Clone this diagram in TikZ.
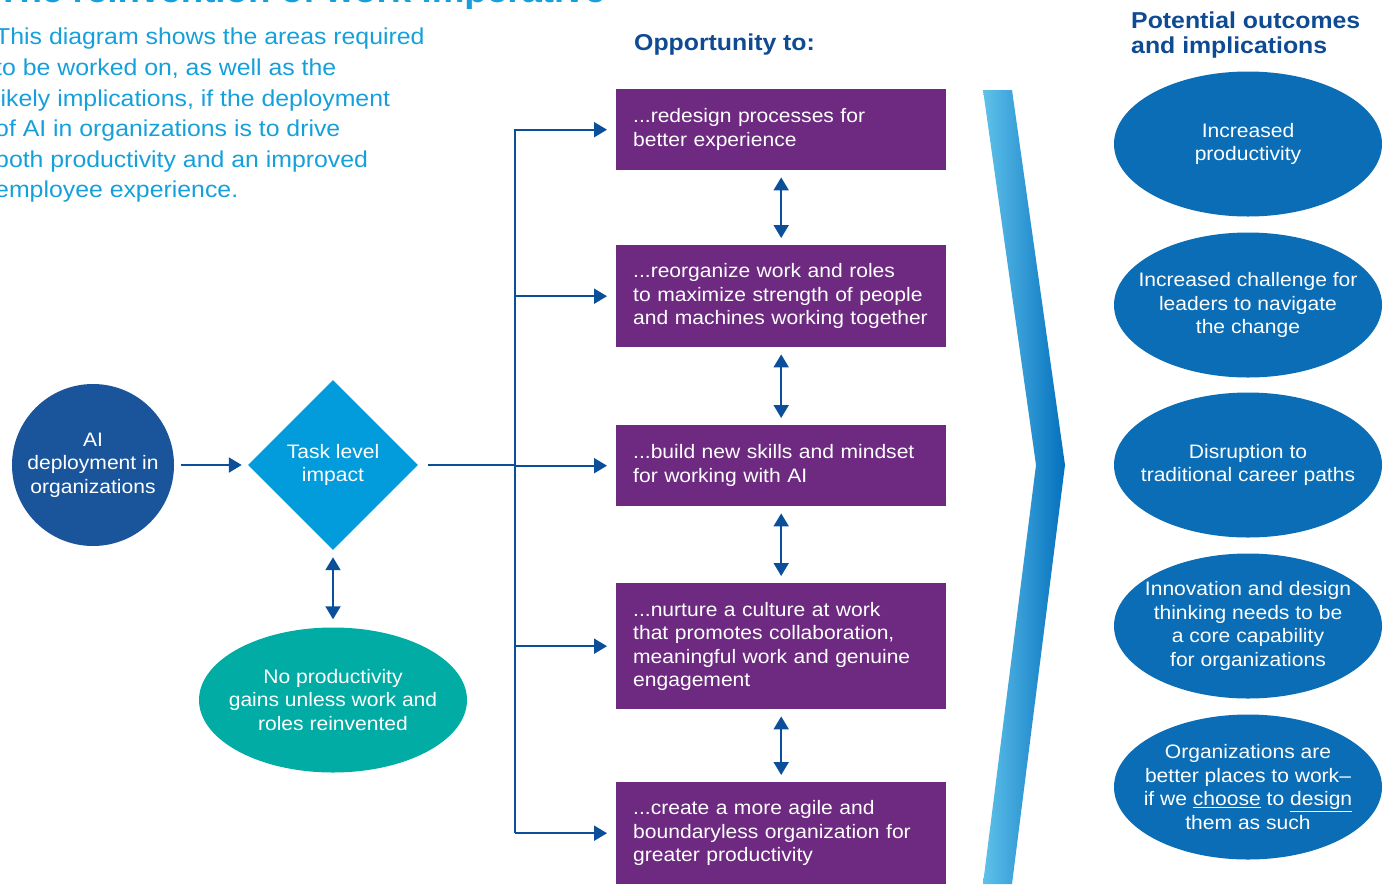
\documentclass[tikz,border=0pt]{standalone}
\usepackage{fontspec}
\setmainfont{Liberation Sans}[FakeStretch=1.08]
\usetikzlibrary{shapes.geometric,arrows.meta,positioning}
\definecolor{deployblue}{HTML}{1A559C}
\definecolor{taskblue}{HTML}{029BDC}
\definecolor{gainteal}{HTML}{00ACA4}
\definecolor{opppurple}{HTML}{6D2A80}
\definecolor{outblue}{HTML}{0A6DB6}
\definecolor{linkblue}{HTML}{0B4F9B}
\definecolor{headnavy}{HTML}{0E4B93}
\definecolor{introblue}{HTML}{16A0DB}
\definecolor{chevlight}{HTML}{5FC2EA}
\definecolor{chevdark}{HTML}{0470BE}
\tikzset{
  boxtext/.style={font=\fontsize{19.5}{23.5}\selectfont, text=white},
  oppbox/.style={boxtext, fill=opppurple, rectangle, minimum width=330pt,
    text width=296pt, inner xsep=17pt, inner ysep=0pt, align=left, anchor=north west,
    execute at begin node={\hyphenpenalty=10000}},
  blob/.style={ellipse, minimum width=268pt, minimum height=145pt, inner sep=0pt},
  blobtext/.style={boxtext, inner sep=0pt, align=center},
  heading/.style={font=\fontsize{23}{24.5}\selectfont\bfseries, text=headnavy,
    inner sep=0pt, align=left},
  link/.style={draw=linkblue, line width=2pt},
  linkarrow/.style={link, -{Triangle[length=13pt,width=15pt]}},
  twoway/.style={link, {Triangle[length=13pt,width=15pt]}-{Triangle[length=13pt,width=15pt]}}
}
\begin{document}
\begin{tikzpicture}[x=1pt, y=-1pt]
  \useasboundingbox (0,0) rectangle (1390,884);
  \pgfmathsetmacro{\trunkX}{515}
  \pgfmathsetmacro{\outX}{1248}

  % title and intro
  \node[anchor=base west, inner sep=0pt, text=introblue,
    font=\fontsize{34}{36}\selectfont\bfseries] (title) at (-3,2)
    {The reinvention of work imperative};
  \node[anchor=north west, inner sep=0pt, text=introblue, align=left,
    font=\fontsize{23}{30.6}\selectfont] (intro) at (-5,28)
    {This diagram shows the areas required\\
     to be worked on, as well as the\\
     likely implications, if the deployment\\
     of AI in organizations is to drive\\
     both productivity and an improved\\
     employee experience.};

  % left part
  \node[boxtext, circle, fill=deployblue, minimum size=162pt, inner sep=0pt,
    align=center] (deploy) at (93,465) {AI\\deployment in\\organizations};
  \node[boxtext, diamond, fill=taskblue, minimum width=170pt, minimum height=170pt,
    inner sep=0pt, align=center] (task) at (333,465) {Task level\\impact};
  \node[blob, fill=gainteal] (gains) at (333,700) {};
  \node[blobtext] (gainstext) at (gains)
    {No productivity\\gains unless work and\\roles reinvented};

  \draw[linkarrow, shorten <=7pt, shorten >=6pt] (deploy) -- (task);
  \draw[twoway, shorten <=7pt, shorten >=8pt] (task.south) -- (gains.north);

  % opportunities
  \node[heading] (opphead) at (634,45) [anchor=west] {Opportunity to:};
  \node[oppbox, minimum height=81pt] (opp1) at (616,89)
    {...redesign processes for\\better experience};
  \node[oppbox, minimum height=102pt] (opp2) at (616,245)
    {...reorganize work and roles\\to maximize strength of people\\and machines working together};
  \node[oppbox, minimum height=81pt] (opp3) at (616,425)
    {...build new skills and mindset\\for working with AI};
  \node[oppbox, minimum height=126pt] (opp4) at (616,583)
    {...nurture a culture at work\\that promotes collaboration,\\meaningful work and genuine\\engagement};
  \node[oppbox, minimum height=102pt] (opp5) at (616,782)
    {...create a more agile and\\boundaryless organization for\\greater productivity};

  \coordinate (trunktop) at (\trunkX,129);
  \coordinate (trunkbot) at (\trunkX,833);
  \draw[link] (trunktop) -- (trunkbot);
  \draw[link] ([xshift=10pt]task.east) -- (trunktop |- task.east);
  \foreach \i in {1,...,5}
    \draw[linkarrow] (trunktop |- opp\i.west) -- ([xshift=-9pt]opp\i.west);
  \foreach \i/\j in {1/2,2/3,3/4,4/5}
    \draw[twoway] ([yshift=-7pt]opp\i.south) -- ([yshift=7pt]opp\j.north);

  % chevron
  \shade[left color=chevlight, right color=chevdark]
    (983,90) -- (1012,90) -- (1065,465) -- (1012,884) -- (983,884) -- (1036,465) -- cycle;

  % outcomes
  \node[heading] (outhead) at (1131,12) [anchor=north west]
    {Potential outcomes\\and implications};
  \foreach \k/\y in {1/144,2/305,3/465,4/626,5/787}
    \node[blob, fill=outblue] (out\k) at (\outX,\y) {};
  \node[blobtext] (out1text) at (out1) {Increased\\productivity};
  \node[blobtext] (out2text) at (out2) {Increased challenge for\\leaders to navigate\\the change};
  \node[blobtext] (out3text) at (out3) {Disruption to\\traditional career paths};
  \node[blobtext] (out4text) at (out4)
    {Innovation and design\\thinking needs to be\\a core capability\\for organizations};
  \node[blobtext] (out5text) at (out5)
    {Organizations are\\better places to work--\\if we \underline{choose} to \underline{design}\\them as such};
\end{tikzpicture}
\end{document}
